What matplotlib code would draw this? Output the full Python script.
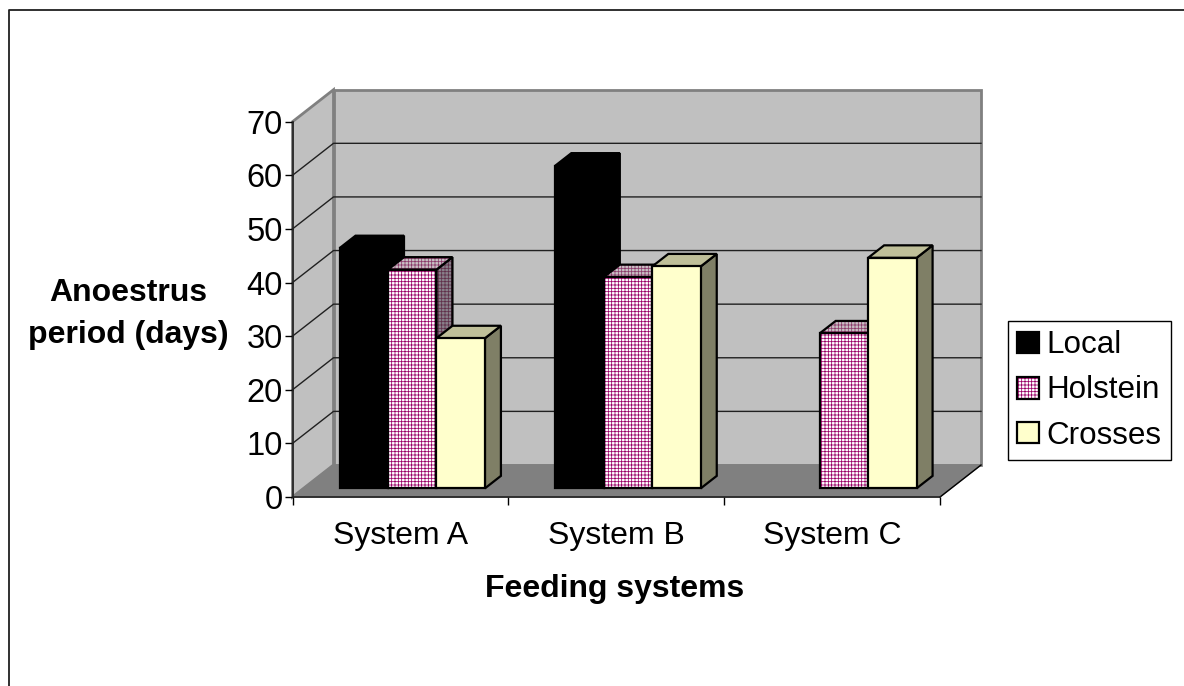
import numpy as np
import matplotlib
matplotlib.use('Agg')
import matplotlib.pyplot as plt
from matplotlib.patches import Polygon, Rectangle, Patch
from matplotlib.lines import Line2D
from matplotlib.legend_handler import HandlerBase

plt.rcParams['font.family'] = ['Liberation Sans', 'DejaVu Sans']
plt.rcParams['hatch.linewidth'] = 0.55

systems = ['System A', 'System B', 'System C']
series_names = ['Local', 'Holstein', 'Crosses']
local = [44.8, 60.2, np.nan]
holstein = [40.8, 39.4, 28.9]
crosses = [28.0, 41.4, 43.0]
y_ticks = [0, 10, 20, 30, 40, 50, 60, 70]

W, H = 1184, 686
PINK = '#990066'

# pixel layout of the front plane
left_px, right_px = 292.5, 940.0
bottom_px, top_px = 497.0, 121.7
depth_x = 41 / ((right_px - left_px) / 3)     # category units
depth_y = 32 / ((bottom_px - top_px) / 70)    # value units
gap = 36 / 216
bar_w = 48.5 / 216
bar_start = 0.27
bar_depth = 0.39

fig = plt.figure(figsize=(W / 100, H / 100), dpi=100, facecolor='white')
ax = fig.add_axes([left_px / W, 1 - bottom_px / H, (right_px - left_px) / W, (bottom_px - top_px) / H])
ax.set_xlim(0, 3)
ax.set_ylim(0, 70)
ax.patch.set_visible(False)


def face(pts, fc, ec='black', lw=1.6, hatch=None, hatch_color=PINK, z=3):
    if hatch:
        ax.add_patch(Polygon(pts, closed=True, facecolor=fc, edgecolor=hatch_color, hatch=hatch,
                             linewidth=0, clip_on=False, zorder=z))
        fc = 'none'
    ax.add_patch(Polygon(pts, closed=True, facecolor=fc, edgecolor=ec, linewidth=lw,
                         joinstyle='miter', clip_on=False, zorder=z))


# walls and floor
wall_grey = '#c0c0c0'
edge_grey = '#808080'
face([(depth_x, depth_y), (3 + depth_x, depth_y), (3 + depth_x, 70 + depth_y), (depth_x, 70 + depth_y)],
     wall_grey, ec=edge_grey, lw=2, z=1)
face([(0, 0), (depth_x, depth_y), (depth_x, 70 + depth_y), (0, 70)], wall_grey, ec=edge_grey, lw=2, z=1)
face([(0, 0), (3, 0), (3 + depth_x, depth_y), (depth_x, depth_y)], edge_grey, ec=edge_grey, lw=1, z=1)

for t in y_ticks[1:-1]:
    ax.plot([0, depth_x, 3 + depth_x], [t, t + depth_y, t + depth_y], color='#202020', lw=1,
            clip_on=False, zorder=2)
ax.plot([3, 3 + depth_x], [0, depth_y], color='black', lw=1, clip_on=False, zorder=2)

# bars
styles = [
    dict(front='black', top='black', side='black', hatch=None, top_h=PINK, side_h=PINK),
    dict(front='white', top='#c8c0c4', side='#88808a', hatch='+++++', top_h='#8a3a6a', side_h='#60304a'),
    dict(front='#ffffcc', top='#bfbf99', side='#7f7f66', hatch=None, top_h=PINK, side_h=PINK),
]
off_x = bar_start * depth_x
off_y = bar_start * depth_y
d_x = bar_depth * depth_x
d_y = bar_depth * depth_y
for i in range(len(systems)):
    for j, vals in enumerate([local, holstein, crosses]):
        v = vals[i]
        if np.isnan(v):
            continue
        s = styles[j]
        x0 = i + gap + j * bar_w + off_x
        x1 = x0 + bar_w
        y0 = off_y
        y1 = off_y + v
        z = 3 + i + j * 0.1
        face([(x1, y0), (x1 + d_x, y0 + d_y), (x1 + d_x, y1 + d_y), (x1, y1)], s['side'], hatch=s['hatch'],
             hatch_color=s['side_h'], z=z)
        face([(x0, y1), (x1, y1), (x1 + d_x, y1 + d_y), (x0 + d_x, y1 + d_y)], s['top'], hatch=s['hatch'],
             hatch_color=s['top_h'], z=z)
        face([(x0, y0), (x1, y0), (x1, y1), (x0, y1)], s['front'], hatch=s['hatch'], z=z)

# axes
for name in ['top', 'right']:
    ax.spines[name].set_visible(False)
for name in ['left', 'bottom']:
    ax.spines[name].set_linewidth(1.2)
    ax.spines[name].set_color('#202020')
    ax.spines[name].set_zorder(2.5)
ax.set_yticks(y_ticks)
ax.set_xticks([0, 1, 2, 3])
ax.set_xticklabels([])
ax.set_xticks([0.5, 1.5, 2.5], labels=systems, minor=True)
ax.tick_params(axis='x', which='minor', length=0, labelsize=23, pad=17)
ax.tick_params(axis='both', which='major', length=6, width=1, labelsize=23.5, pad=1)
ax.set_xlabel('Feeding systems', fontsize=23, fontweight='bold')
ax.xaxis.set_label_coords((615 - left_px) / (right_px - left_px), (bottom_px - 589) / (bottom_px - top_px),
                          transform=ax.transAxes)
ax.xaxis.label.set_verticalalignment('center')
fig.text(128 / W, 1 - 314 / H, 'Anoestrus\nperiod (days)', fontsize=23, fontweight='bold',
         ha='center', va='center', linespacing=1.55)

# outer border
fig.add_artist(Line2D([9 / W, 9 / W, 1], [0, 1 - 10 / H, 1 - 10 / H], color='#202020', lw=1.3))


class HatchHandler(HandlerBase):
    def create_artists(self, legend, orig, x, y, w, h, fontsize, trans):
        fill = Rectangle((x, y), w, h, facecolor='white', edgecolor=PINK, hatch='+++++', linewidth=0, transform=trans)
        box = Rectangle((x, y), w, h, fill=False, edgecolor='black', linewidth=1.6, transform=trans)
        return [fill, box]


h_local = Patch(facecolor='black', edgecolor='black', linewidth=1.6)
h_holstein = Patch(facecolor='white', edgecolor='black')
h_crosses = Patch(facecolor='#ffffcc', edgecolor='black', linewidth=1.6)
leg = fig.legend([h_local, h_holstein, h_crosses], series_names,
                 handler_map={h_holstein: HatchHandler()},
                 loc='upper left', bbox_to_anchor=(1008 / W, 1 - 321 / H), borderaxespad=0,
                 fontsize=22.6, frameon=True, fancybox=False, framealpha=1, edgecolor='black',
                 handlelength=0.68, handleheight=0.68, handletextpad=0.24, labelspacing=0.48,
                 borderpad=0.3)
leg.get_frame().set_linewidth(1)

fig.savefig('out.png', dpi=100)
